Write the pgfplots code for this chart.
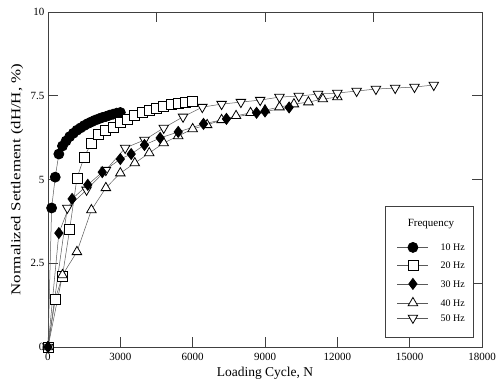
\documentclass[border=0pt]{standalone}
\usepackage{fontspec}
\setmainfont{Liberation Serif}
\usepackage{graphicx}
\usepackage{pgfplots}
\pgfplotsset{compat=1.18}
\usepackage{pgfplotstable}

\pgfplotstableread{
N y
0 0
150 4.15
300 5.07
450 5.76
600 6.00
750 6.15
900 6.28
1050 6.38
1200 6.47
1350 6.54
1500 6.61
1650 6.67
1800 6.72
1950 6.77
2100 6.81
2250 6.85
2400 6.88
2550 6.92
2700 6.95
2850 6.98
3000 7.00
}\tenhz

\pgfplotstableread{
N y
0 0
300 1.43
600 2.12
900 3.52
1200 5.04
1500 5.67
1800 6.09
2100 6.34
2400 6.48
2700 6.57
3000 6.69
3300 6.78
3600 6.90
3900 6.99
4200 7.07
4500 7.13
4800 7.19
5100 7.25
5400 7.28
5700 7.31
6000 7.34
}\twentyhz

\pgfplotstableread{
N y
0 0
450 3.40
1000 4.42
1650 4.84
2250 5.22
3000 5.61
3450 5.76
4000 6.03
4650 6.24
5400 6.42
6450 6.66
7400 6.81
8650 6.99
9000 7.03
10000 7.15
}\thirtyhz

\pgfplotstableread{
N y
0 0
600 2.15
1200 2.84
1800 4.09
2400 4.75
3000 5.19
3600 5.49
4200 5.79
4800 6.09
5400 6.30
6000 6.51
6600 6.63
7200 6.78
7800 6.90
8400 6.99
9000 7.07
9600 7.16
10200 7.25
10800 7.31
11400 7.40
12000 7.46
}\fortyhz

\pgfplotstableread{
N y
0 0
800 4.15
1600 4.69
2400 5.28
3200 5.94
4000 6.18
4800 6.54
5600 6.87
6400 7.16
7200 7.25
8000 7.31
8800 7.37
9600 7.46
10400 7.49
11200 7.55
12000 7.58
12800 7.64
13600 7.70
14400 7.73
15200 7.76
16000 7.82
}\fiftyhz

\pgfplotsset{
  s10/.style={black!65, line width=0.5pt, mark=*, mark size=5pt, mark options={draw=black, fill=black, line width=0.8pt}},
  s20/.style={black!65, line width=0.5pt, mark=square*, mark size=5pt, mark options={draw=black, fill=white, line width=0.8pt}},
  s30/.style={black!65, line width=0.5pt, mark=diamond*, mark size=5.5pt, mark options={draw=black, fill=black, line width=0.8pt}},
  s40/.style={black!65, line width=0.5pt, mark=triangle*, mark size=5.5pt, mark options={draw=black, fill=white, line width=0.8pt}},
  s50/.style={black!65, line width=0.5pt, mark=triangle*, mark size=5.5pt, mark options={draw=black, fill=white, line width=0.8pt, rotate=180}},
}

\begin{document}
\begin{tikzpicture}
\begin{axis}[
  at={(0pt,0pt)}, anchor=south west,
  scale only axis,
  width=434pt, height=335pt,
  xmin=0, xmax=18000, ymin=0, ymax=10,
  xtick={4500,9000,13500}, ytick={1.9,5,7.5},
  xticklabels=\empty, yticklabels=\empty,
  xtick pos=right, ytick pos=right,
  tick align=inside,
  major tick length=10pt,
  axis line style={black!75, line width=0.8pt},
  every tick/.style={black!75, line width=0.7pt},
]
\end{axis}
\begin{axis}[
  at={(0pt,0pt)}, anchor=south west,
  scale only axis,
  width=434pt, height=335pt,
  xmin=0, xmax=18000, ymin=0, ymax=10,
  xtick={0,3000,...,18000},
  ytick={0,2.5,5,7.5,10},
  yticklabels={0,2.5,5,7.5,10},
  xtick pos=left, ytick pos=left,
  tick align=inside,
  major tick length=10pt,
  scaled x ticks=false,
  /pgf/number format/1000 sep={},
  /pgf/number format/assume math mode=true,
  tick label style={font=\fontsize{11}{13}\selectfont},
  x tick label style={yshift=-3pt},
  axis line style={black!75, line width=0.8pt},
  every tick/.style={black!75, line width=0.7pt},
  xlabel={Loading Cycle, N},
  ylabel={\scalebox{1.25}[1]{Normalized Settlement (dH/H, \%)}},
  label style={font=\fontsize{13.5}{16}\selectfont},
  xlabel style={at={(axis description cs:0.5,-0.0776)}, anchor=center},
  ylabel style={at={(axis description cs:-0.0714,0.5)}, anchor=center},
  legend image code/.code={\draw[mark repeat=2,mark phase=2,#1] plot coordinates {(0pt,0pt) (15.5pt,0pt) (31pt,0pt)};},
  legend style={draw=none, fill=none,
    font=\fontsize{10}{12}\selectfont,
    at={(axis description cs:0.8041,0.3128)}, anchor=north west,
    inner sep=0pt, row sep=8pt, column sep=12pt,
    nodes={inner sep=0pt, text height=7pt, text depth=0pt}},
  legend cell align=left,
]
\addplot[s10, forget plot] table[x=N,y=y]{\tenhz};
\addplot[s20, forget plot] table[x=N,y=y]{\twentyhz};
\addplot[s40, forget plot] table[x=N,y=y]{\fortyhz};
\addplot[s50, forget plot] table[x=N,y=y]{\fiftyhz};
\addplot[s30, forget plot] table[x=N,y=y]{\thirtyhz};
\addlegendimage{s10}\addlegendentry{10 Hz}
\addlegendimage{s20}\addlegendentry{20 Hz}
\addlegendimage{s30}\addlegendentry{30 Hz}
\addlegendimage{s40}\addlegendentry{40 Hz}
\addlegendimage{s50}\addlegendentry{50 Hz}
\draw[black!75, line width=0.6pt, fill=white] (axis description cs:0.7765,0.0299) rectangle (axis description cs:0.9793,0.4209);
\node[font=\fontsize{11}{13}\selectfont] at (axis description cs:0.8825,0.3672) {Frequency};
\end{axis}
\pgfresetboundingbox
\path[use as bounding box] (-48pt,-38pt) rectangle (452pt,347pt);
\end{tikzpicture}
\end{document}
